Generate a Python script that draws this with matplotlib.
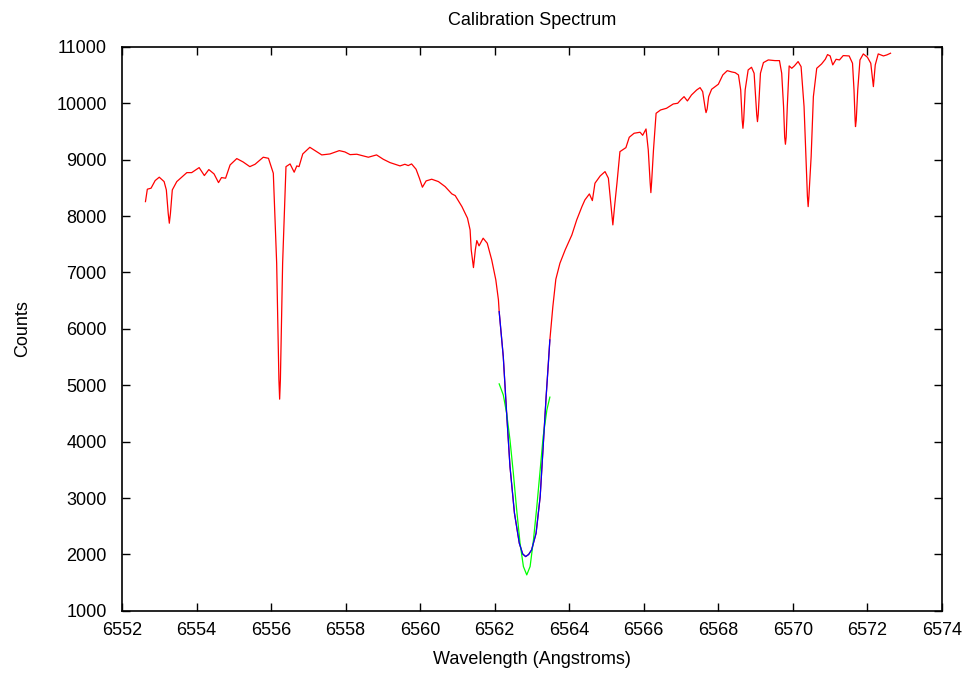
import matplotlib.pyplot as plt

plt.rcParams['font.family'] = ['Liberation Sans', 'DejaVu Sans']

# observed spectrum (red)
wave = [6552.63, 6552.68, 6552.78, 6552.89, 6553.00, 6553.13, 6553.19, 6553.24, 6553.27, 6553.30,
        6553.35, 6553.47, 6553.74, 6553.87, 6554.07, 6554.21, 6554.33, 6554.47, 6554.59, 6554.67,
        6554.78, 6554.90, 6555.08, 6555.25, 6555.43, 6555.57, 6555.79, 6555.93, 6556.06, 6556.15,
        6556.21, 6556.23, 6556.25, 6556.31, 6556.40, 6556.51, 6556.62, 6556.69, 6556.75, 6556.85,
        6557.04, 6557.22, 6557.36, 6557.58, 6557.83, 6557.98, 6558.12, 6558.30, 6558.61, 6558.83,
        6559.01, 6559.19, 6559.46, 6559.59, 6559.68, 6559.77, 6559.89, 6559.98, 6560.06, 6560.16,
        6560.31, 6560.49, 6560.67, 6560.85, 6560.94, 6561.12, 6561.27, 6561.34, 6561.37, 6561.43,
        6561.48, 6561.52, 6561.58, 6561.69, 6561.80, 6561.92, 6562.03, 6562.10, 6562.12, 6562.23,
        6562.32, 6562.41, 6562.53, 6562.66, 6562.75, 6562.83, 6562.91, 6562.99, 6563.11, 6563.22,
        6563.30, 6563.38, 6563.44, 6563.48, 6563.56, 6563.64, 6563.75, 6563.89, 6564.07, 6564.20,
        6564.34, 6564.42, 6564.54, 6564.62, 6564.69, 6564.83, 6564.96, 6565.05, 6565.12, 6565.17,
        6565.22, 6565.28, 6565.36, 6565.52, 6565.61, 6565.74, 6565.90, 6565.97, 6566.06, 6566.12,
        6566.17, 6566.19, 6566.21, 6566.26, 6566.33, 6566.45, 6566.61, 6566.79, 6566.91, 6566.99,
        6567.08, 6567.17, 6567.28, 6567.42, 6567.51, 6567.58, 6567.65, 6567.67, 6567.70, 6567.74,
        6567.82, 6568.00, 6568.12, 6568.24, 6568.36, 6568.45, 6568.54, 6568.60, 6568.64, 6568.66,
        6568.68, 6568.72, 6568.80, 6568.89, 6568.96, 6569.03, 6569.05, 6569.07, 6569.13, 6569.21,
        6569.34, 6569.52, 6569.64, 6569.70, 6569.75, 6569.78, 6569.80, 6569.82, 6569.85, 6569.90,
        6569.97, 6570.04, 6570.14, 6570.22, 6570.30, 6570.35, 6570.39, 6570.41, 6570.43, 6570.49,
        6570.55, 6570.64, 6570.77, 6570.87, 6570.93, 6571.00, 6571.07, 6571.16, 6571.25, 6571.35,
        6571.51, 6571.60, 6571.64, 6571.67, 6571.68, 6571.70, 6571.74, 6571.80, 6571.89, 6572.00,
        6572.09, 6572.16, 6572.21, 6572.29, 6572.43, 6572.52, 6572.62]
counts = [8257, 8477, 8495, 8630, 8690, 8612, 8464, 8050, 7874, 8050,
          8464, 8612, 8771, 8771, 8860, 8719, 8825, 8748, 8594, 8683,
          8672, 8907, 9020, 8960, 8877, 8919, 9044, 9025, 8760, 7165,
          5100, 4754, 5100, 7165, 8877, 8925, 8778, 8890, 8877, 9102,
          9220, 9143, 9085, 9102, 9161, 9138, 9090, 9097, 9044, 9085,
          9008, 8949, 8890, 8919, 8896, 8925, 8831, 8672, 8512, 8624,
          8654, 8612, 8523, 8394, 8364, 8169, 7963, 7755, 7400, 7087,
          7400, 7566, 7472, 7608, 7519, 7223, 6868, 6514, 6306, 5509,
          4505, 3559, 2732, 2200, 2010, 1963, 2000, 2081, 2377, 3026,
          3913, 4800, 5392, 5805, 6395, 6880, 7164, 7400, 7666, 7932,
          8168, 8287, 8393, 8275, 8583, 8712, 8789, 8672, 8200, 7844,
          8200, 8583, 9143, 9214, 9398, 9469, 9487, 9433, 9545, 9173,
          8600, 8416, 8600, 9173, 9823, 9882, 9912, 9988, 10001, 10060,
          10118, 10042, 10148, 10237, 10278, 10207, 9900, 9835, 9900, 10118,
          10249, 10338, 10503, 10579, 10556, 10544, 10503, 10237, 9700, 9557,
          9700, 10237, 10592, 10639, 10533, 9800, 9675, 9800, 10533, 10722,
          10769, 10757, 10757, 10533, 9941, 9400, 9274, 9400, 9941, 10663,
          10621, 10663, 10740, 10651, 9941, 9055, 8350, 8168, 8350, 9055,
          10118, 10621, 10698, 10781, 10864, 10840, 10681, 10781, 10769, 10846,
          10840, 10710, 10237, 9700, 9587, 9700, 10237, 10769, 10876, 10817,
          10710, 10296, 10681, 10876, 10840, 10858, 10888]

# Gaussian fit (green)
gauss_wave = [6562.12, 6562.23, 6562.32, 6562.41, 6562.50, 6562.59, 6562.68, 6562.77, 6562.86,
              6562.95, 6563.04, 6563.13, 6563.22, 6563.30, 6563.40, 6563.48]
gauss_counts = [5025, 4830, 4505, 4032, 3441, 2790, 2200, 1787, 1638,
                1787, 2259, 2850, 3500, 4090, 4564, 4790]

# core fit (blue)
fit_wave = [6562.12, 6562.23, 6562.32, 6562.41, 6562.53, 6562.66, 6562.75, 6562.83, 6562.91,
            6562.99, 6563.11, 6563.22, 6563.30, 6563.38, 6563.44, 6563.48]
fit_counts = [6306, 5509, 4505, 3559, 2732, 2200, 2010, 1963, 2000,
              2081, 2377, 3026, 3913, 4800, 5392, 5805]

fig = plt.figure(figsize=(9.72, 6.75), dpi=100)
ax = fig.add_axes([0.1255, 0.095, 0.8436, 0.8355])

ax.plot(wave, counts, color='#ff0000', lw=0.9)
ax.plot(gauss_wave, gauss_counts, color='#00ff00', lw=0.9)
ax.plot(fit_wave, fit_counts, color='#0000ff', lw=0.9)

ax.set_xlim(6552, 6574)
ax.set_ylim(1000, 11000)
ax.set_xticks(range(6552, 6575, 2))
ax.set_yticks(range(1000, 11001, 1000))
ax.tick_params(direction='in', length=6, width=1, top=True, right=True,
               labelsize=13, colors='black')
ax.tick_params(axis='y', pad=11)
ax.tick_params(axis='x', pad=8)
for s in ax.spines.values():
    s.set_linewidth(1.2)

ax.set_title('Calibration Spectrum', fontsize=13, pad=16)
ax.set_xlabel('Wavelength (Angstroms)', fontsize=13, labelpad=9)
ax.set_ylabel('Counts', fontsize=13, labelpad=18)

fig.savefig('out.png', dpi=100)
